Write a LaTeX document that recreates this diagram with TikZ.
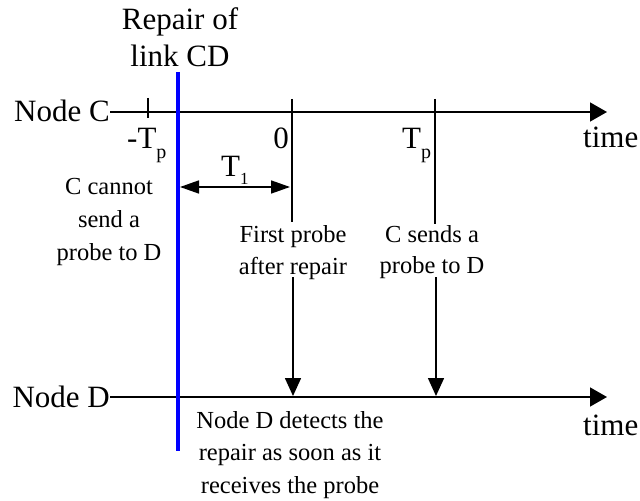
\documentclass[tikz,border=0pt]{standalone}
\usepackage{fontspec}
\setmainfont{Liberation Serif}
\usetikzlibrary{arrows.meta}
\begin{document}
\begin{tikzpicture}[x=1bp,y=-1bp,
  big/.style={font=\fontsize{31bp}{37bp}\selectfont, inner sep=0pt},
  small/.style={font=\fontsize{24.5bp}{32bp}\selectfont, inner sep=0pt, anchor=base},
  axis/.style={line width=1.6bp, -{Triangle[length=17bp,width=19bp]}},
  tickline/.style={line width=1.6bp},
  probe/.style={line width=1.6bp, -{Triangle[length=18bp,width=16bp]}},
  interval/.style={line width=1.6bp, {Triangle[length=19bp,width=13bp]}-{Triangle[length=19bp,width=13bp]}},
  repair/.style={line width=3.5bp, draw=blue},
]
\useasboundingbox (0,0) rectangle (640,501);

% timeline labels
\node[big, anchor=base east] (nc) at (110,122) {Node C};
\node[big, anchor=base east] (nd) at (110,407) {Node D};
\node[big, anchor=base west] (timeC) at (583,148) {time};
\node[big, anchor=base west] (timeD) at (583,435) {time};
\node[big, anchor=base] (rep1) at (180,30) {Repair of};
\node[big, anchor=base] (rep2) at (180,67) {link CD};

% coordinates
\coordinate (cE) at (607,112);
\coordinate (dE) at (607,397);
\coordinate (bT) at (178,72);
\coordinate (bB) at (178,451);
\coordinate (tmT) at (148,98);
\coordinate (tmB) at (148,118);
\coordinate (t0T) at (292,99);
\coordinate (t0B) at (292,222);
\coordinate (tpT) at (435,99);
\coordinate (tpB) at (435,224);
\coordinate (a1L) at (180,187);
\coordinate (a1R) at (290,187);
\coordinate (p1S) at (293,277);
\coordinate (p1E) at (293,396);
\coordinate (p2S) at (436,277);
\coordinate (p2E) at (436,396);

% axes
\draw[axis] (nc.east |- cE) -- (cE);
\draw[axis] (nd.east |- dE) -- (dE);

% ticks
\draw[tickline] (tmT) -- (tmB);
\draw[tickline] (t0T) -- (t0B);
\draw[tickline] (tpT) -- (tpB);

% repair line
\draw[repair] (bT) -- (bB);

% interval T1
\draw[interval] (a1L) -- (a1R);

% probes
\draw[probe] (p1S) -- (p1E);
\draw[probe] (p2S) -- (p2E);

% tick labels
\node[big, anchor=base west] (lmTp) at (127,149) {-T\raisebox{-10bp}{\fontsize{20bp}{20bp}\selectfont p}};
\node[big, anchor=base east] (l0) at (289,149) {0};
\node[big, anchor=base west] (lTp) at (402,149) {T\raisebox{-10bp}{\fontsize{20bp}{20bp}\selectfont p}};
\node[big, anchor=base west] (lT1) at (221,177) {T\raisebox{-8bp}{\fontsize{17bp}{17bp}\selectfont 1}};

% explanatory texts
\node[small] (cc1) at (109,195) {C cannot};
\node[small] (cc2) at (109,228) {send a};
\node[small] (cc3) at (109,260) {probe to D};
\node[small] (fp1) at (293,243) {First probe};
\node[small] (fp2) at (293,274) {after repair};
\node[small] (cs1) at (432,243) {C sends a};
\node[small] (cs2) at (432,273) {probe to D};
\node[small] (nd1) at (290,428) {Node D detects the};
\node[small] (nd2) at (290,460) {repair as soon as it};
\node[small] (nd3) at (290,493) {receives the probe};
\end{tikzpicture}
\end{document}
